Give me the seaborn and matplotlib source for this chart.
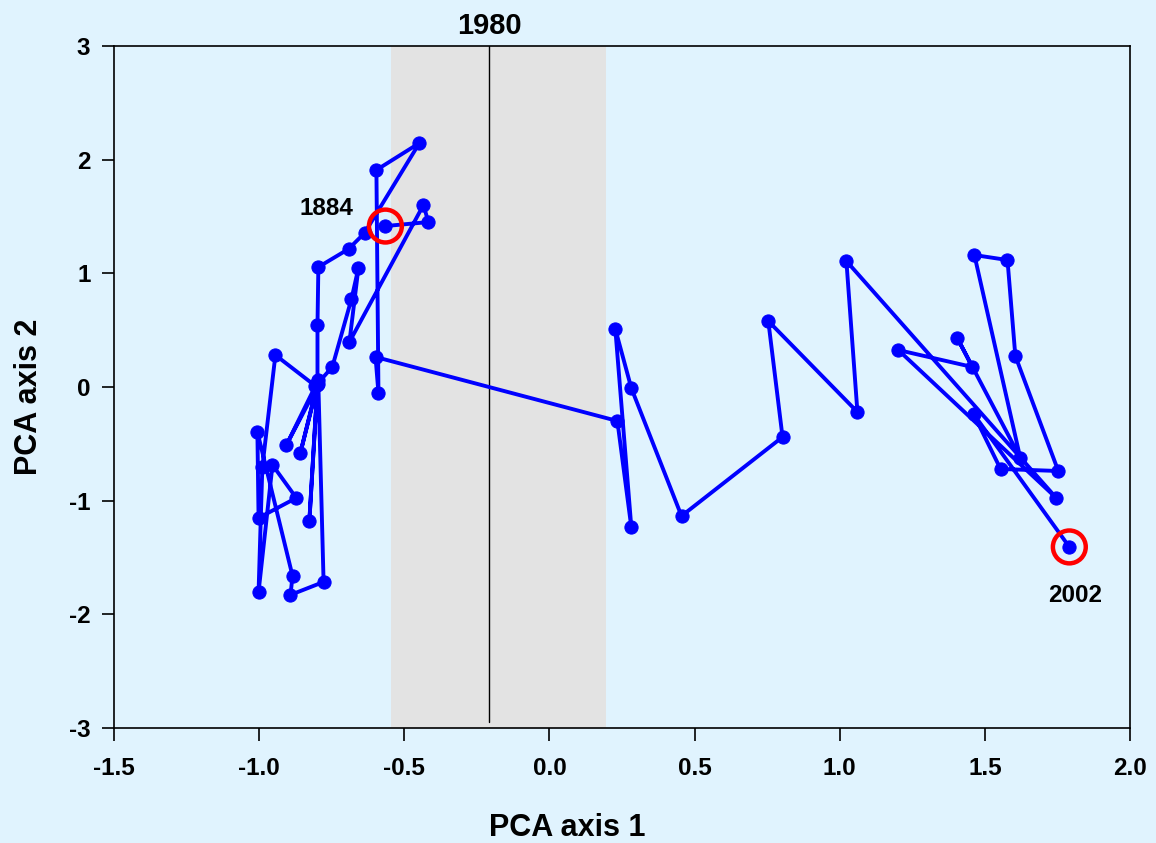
import matplotlib
matplotlib.use("Agg")
import matplotlib.pyplot as plt
import seaborn as sns
import pandas as pd

# PCA trajectory (1884 -> 2002)
pca1 = [-0.565, -0.417, -0.434, -0.689, -0.658, -0.682, -0.748, -0.806, -0.944, -0.989,
        -1.002, -0.954, -0.872, -1.002, -1.006, -0.885, -0.892, -0.778, -0.796, -0.906,
        -0.796, -0.858, -0.799, -0.827, -0.799, -0.799, -0.796, -0.692, -0.637, -0.448,
        -0.596, -0.589, -0.599,
        0.234, 0.282, 0.227, 0.282, 0.455, 0.803, 0.754, 1.061, 1.023,
        1.746, 1.202, 1.457, 1.405, 1.622, 1.464, 1.578, 1.605, 1.753, 1.554, 1.461, 1.791]
pca2 = [1.416, 1.451, 1.601, 0.396, 1.047, 0.774, 0.176, 0.009, 0.281, -0.704,
        -1.803, -0.686, -0.976, -1.152, -0.396, -1.662, -1.829, -1.715, 0.026, -0.510,
        0.062, -0.580, 0.018, -1.179, 0.035, 0.545, 1.055, 1.214, 1.354, 2.146,
        1.909, -0.053, 0.264,
        -0.299, -1.231, 0.510, -0.009, -1.135, -0.440, 0.580, -0.220, 1.108,
        -0.976, 0.325, 0.176, 0.431, -0.624, 1.161, 1.117, 0.273, -0.739, -0.721, -0.237, -1.407]

band_range = [-0.545, 0.195]
break_x = -0.207
break_label = "1980"
start_label = "1884"
end_label = "2002"
x_ticks = [-1.5, -1.0, -0.5, 0.0, 0.5, 1.0, 1.5, 2.0]
y_ticks = [-3, -2, -1, 0, 1, 2, 3]

sns.set_style("ticks")
plt.rcParams['font.family'] = ['Liberation Sans', 'DejaVu Sans']
plt.rcParams['font.weight'] = 'bold'
for k in ['text.color', 'axes.labelcolor', 'xtick.color', 'ytick.color', 'axes.edgecolor']:
    plt.rcParams[k] = 'black'

bg = "#E0F3FE"
fig = plt.figure(figsize=(11.56, 8.43), dpi=100, facecolor=bg)
ax = fig.add_axes([114/1156, 1 - 728/843, (1130-114)/1156, (728-46)/843])
ax.set_facecolor(bg)

ax.axvspan(band_range[0], band_range[1], color="#E3E3E3", zorder=0, lw=0)
ax.plot([break_x, break_x], [-2.95, 3], color="black", lw=1.0, zorder=1)

df = pd.DataFrame({"PCA axis 1": pca1, "PCA axis 2": pca2})
sns.lineplot(data=df, x="PCA axis 1", y="PCA axis 2", sort=False, estimator=None,
             color="#0000FF", lw=2.8, marker="o", markersize=9.5,
             markeredgecolor="#0000FF", ax=ax, zorder=3)

# red rings at start and end
ax.scatter([pca1[0], pca1[-1]], [pca2[0], pca2[-1]], s=560, facecolors="none",
           edgecolors="#FF0000", linewidths=3.2, zorder=4)

ax.text(pca1[0] - 0.11, pca2[0] + 0.15, start_label, ha="right", va="center",
        fontsize=17.5, fontweight="bold")
ax.text(pca1[-1] + 0.02, pca2[-1] - 0.33, end_label, ha="center", va="top",
        fontsize=17.5, fontweight="bold")
ax.text(break_x, 3.05, break_label, ha="center", va="bottom",
        fontsize=21, fontweight="bold")

ax.set_xlim(-1.5, 2.0)
ax.set_ylim(-3, 3)
ax.set_xticks(x_ticks)
ax.set_xticklabels([f"{v:.1f}" for v in x_ticks])
ax.set_yticks(y_ticks)
ax.set_yticklabels([str(v) for v in y_ticks])
ax.tick_params(axis="both", direction="out", length=9, width=1.2, labelsize=17.5,
               top=False, right=False)
ax.tick_params(axis="x", pad=12)
ax.tick_params(axis="y", pad=8)
for lbl in ax.get_xticklabels() + ax.get_yticklabels():
    lbl.set_fontweight("bold")
for s in ax.spines.values():
    s.set_visible(True)
    s.set_color("black")
    s.set_linewidth(1.2)

ax.set_xlabel("PCA axis 1", fontsize=22, fontweight="bold")
ax.set_ylabel("PCA axis 2", fontsize=22, fontweight="bold")
ax.xaxis.set_label_coords(0.446, -0.1466)
ax.xaxis.label.set_va("center")
ax.yaxis.set_label_coords(-0.0837, 0.485)
ax.yaxis.label.set_va("center")

fig.savefig("out.png", dpi=100, facecolor=bg)
